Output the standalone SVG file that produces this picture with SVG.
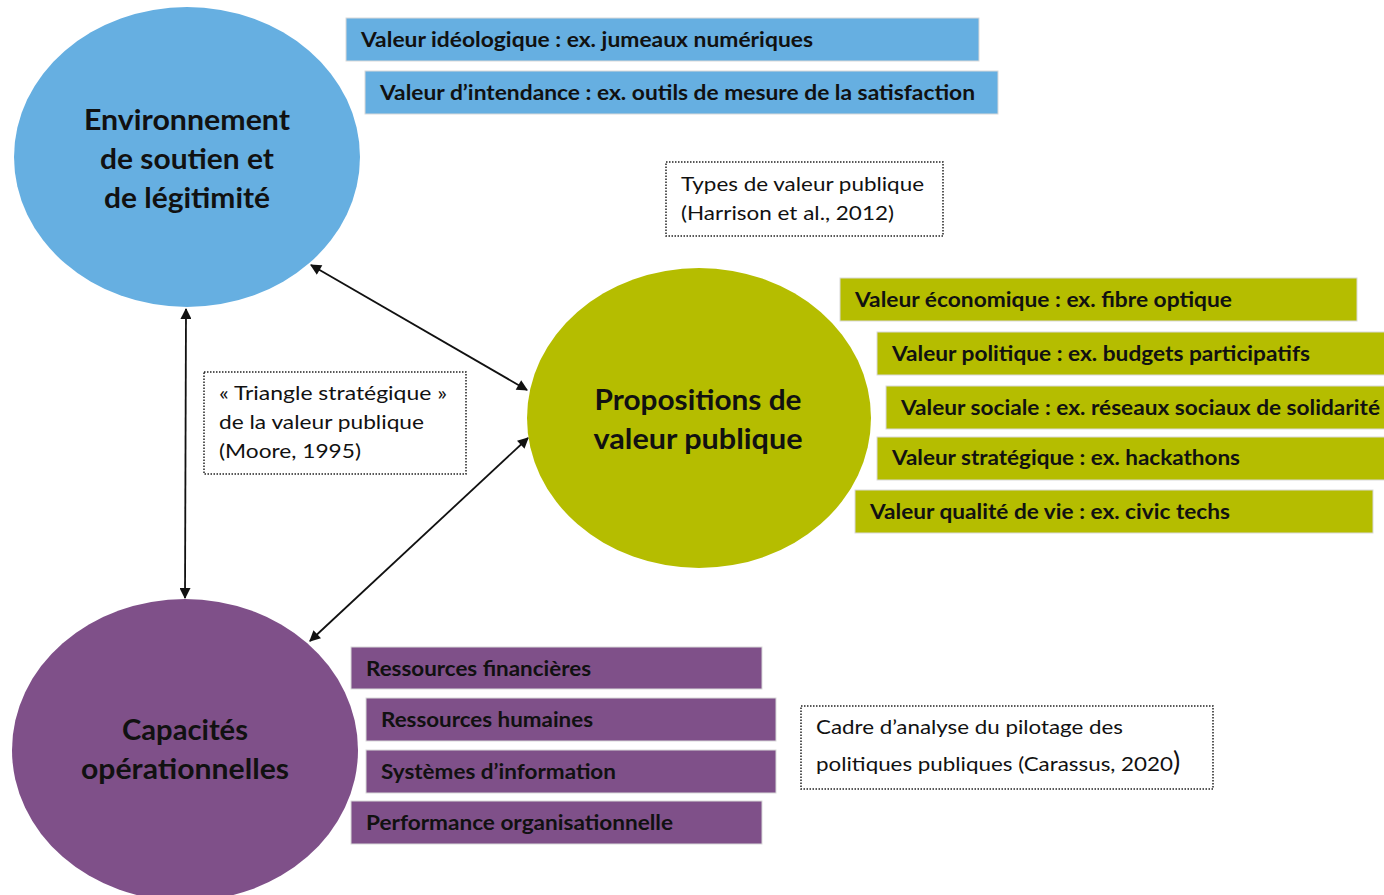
<svg xmlns="http://www.w3.org/2000/svg" width="1384" height="895" viewBox="0 0 1384 895">
<style>
.blue{fill:#66AFE1}
.green{fill:#B5BD00}
.purple{fill:#7F5089}
.box{stroke:#d9d9d9;stroke-width:1}
.bt{font-family:Lato,"Open Sans",sans-serif;font-weight:bold;font-size:21px;fill:#111}
.et{font-family:Lato,"Open Sans",sans-serif;font-weight:bold;font-size:28px;fill:#111;text-anchor:middle}
.nt{font-family:Lato,"Open Sans",sans-serif;font-size:20px;fill:#111}
.dot{fill:#fff;stroke:#222;stroke-width:1.5;stroke-dasharray:1.5 1.5}
.conn{stroke:#111;stroke-width:1.8;fill:none;marker-start:url(#ah);marker-end:url(#ah)}
</style>
<defs>
<marker id="ah" viewBox="0 0 10 10" refX="9" refY="5" markerWidth="12" markerHeight="11" markerUnits="userSpaceOnUse" orient="auto-start-reverse">
<path d="M0,0 L10,5 L0,10 z" fill="#111"/>
</marker>
</defs>
<rect width="1384" height="895" fill="#fff"/>

<g id="connectors">
<line class="conn" x1="311" y1="265" x2="527" y2="390"/>
<line class="conn" x1="186" y1="309" x2="185" y2="598"/>
<line class="conn" x1="310" y1="641" x2="528" y2="438"/>
</g>

<g id="node-environnement">
<ellipse class="blue" cx="187" cy="157" rx="173" ry="150"/>
<text class="et" x="187" y="130" textLength="206" lengthAdjust="spacingAndGlyphs">Environnement</text>
<text class="et" x="187" y="169" textLength="174" lengthAdjust="spacingAndGlyphs">de soutien et</text>
<text class="et" x="187" y="208" textLength="166" lengthAdjust="spacingAndGlyphs">de légitimité</text>
</g>

<g id="node-propositions">
<ellipse class="green" cx="699" cy="418" rx="172" ry="150"/>
<text class="et" x="698" y="410" textLength="207" lengthAdjust="spacingAndGlyphs">Propositions de</text>
<text class="et" x="698" y="449" textLength="209" lengthAdjust="spacingAndGlyphs">valeur publique</text>
</g>

<g id="node-capacites">
<ellipse class="purple" cx="185" cy="750" rx="173" ry="151"/>
<text class="et" x="185" y="740" textLength="126" lengthAdjust="spacingAndGlyphs">Capacités</text>
<text class="et" x="185" y="779" textLength="208" lengthAdjust="spacingAndGlyphs">opérationnelles</text>
</g>

<g id="box-ideologique">
<rect class="blue box" x="346" y="18" width="633" height="43"/>
<text class="bt" x="361" y="47" textLength="452" lengthAdjust="spacingAndGlyphs">Valeur idéologique : ex. jumeaux numériques</text>
</g>
<g id="box-intendance">
<rect class="blue box" x="365" y="71" width="633" height="43"/>
<text class="bt" x="380" y="100" textLength="595" lengthAdjust="spacingAndGlyphs">Valeur d’intendance : ex. outils de mesure de la satisfaction</text>
</g>

<g id="box-economique">
<rect class="green box" x="840" y="278" width="517" height="43"/>
<text class="bt" x="855" y="307" textLength="377" lengthAdjust="spacingAndGlyphs">Valeur économique : ex. fibre optique</text>
</g>
<g id="box-politique">
<rect class="green box" x="877" y="332" width="510" height="43"/>
<text class="bt" x="892" y="361" textLength="418" lengthAdjust="spacingAndGlyphs">Valeur politique : ex. budgets participatifs</text>
</g>
<g id="box-sociale">
<rect class="green box" x="886" y="386" width="500" height="43"/>
<text class="bt" x="901" y="415" textLength="479" lengthAdjust="spacingAndGlyphs">Valeur sociale : ex. réseaux sociaux de solidarité</text>
</g>
<g id="box-strategique">
<rect class="green box" x="877" y="437" width="510" height="43"/>
<text class="bt" x="892" y="465" textLength="348" lengthAdjust="spacingAndGlyphs">Valeur stratégique : ex. hackathons</text>
</g>
<g id="box-qualite">
<rect class="green box" x="855" y="490" width="518" height="43"/>
<text class="bt" x="870" y="519" textLength="360" lengthAdjust="spacingAndGlyphs">Valeur qualité de vie : ex. civic techs</text>
</g>

<g id="box-financieres">
<rect class="purple box" x="351" y="647" width="411" height="42"/>
<text class="bt" x="366" y="676" textLength="225" lengthAdjust="spacingAndGlyphs">Ressources financières</text>
</g>
<g id="box-humaines">
<rect class="purple box" x="366" y="698" width="410" height="43"/>
<text class="bt" x="381" y="727" textLength="212" lengthAdjust="spacingAndGlyphs">Ressources humaines</text>
</g>
<g id="box-systemes">
<rect class="purple box" x="366" y="750" width="410" height="43"/>
<text class="bt" x="381" y="779" textLength="235" lengthAdjust="spacingAndGlyphs">Systèmes d’information</text>
</g>
<g id="box-performance">
<rect class="purple box" x="351" y="801" width="411" height="43"/>
<text class="bt" x="366" y="830" textLength="307" lengthAdjust="spacingAndGlyphs">Performance organisationnelle</text>
</g>

<g id="note-types">
<rect class="dot" x="666" y="162" width="277" height="74"/>
<text class="nt" x="681" y="191" textLength="243" lengthAdjust="spacingAndGlyphs">Types de valeur publique</text>
<text class="nt" x="681" y="220" textLength="213" lengthAdjust="spacingAndGlyphs">(Harrison et al., 2012)</text>
</g>

<g id="note-triangle">
<rect class="dot" x="204" y="372" width="262" height="102"/>
<text class="nt" x="219" y="400" textLength="228" lengthAdjust="spacingAndGlyphs">« Triangle stratégique »</text>
<text class="nt" x="219" y="429" textLength="205" lengthAdjust="spacingAndGlyphs">de la valeur publique</text>
<text class="nt" x="219" y="458" textLength="142" lengthAdjust="spacingAndGlyphs">(Moore, 1995)</text>
</g>

<g id="note-cadre">
<rect class="dot" x="801" y="706" width="412" height="83"/>
<text class="nt" x="816" y="734" textLength="307" lengthAdjust="spacingAndGlyphs">Cadre d’analyse du pilotage des</text>
<text class="nt" x="816" y="771"><tspan textLength="357" lengthAdjust="spacingAndGlyphs">politiques publiques (Carassus, 2020</tspan><tspan font-size="27">)</tspan></text>
</g>
</svg>
